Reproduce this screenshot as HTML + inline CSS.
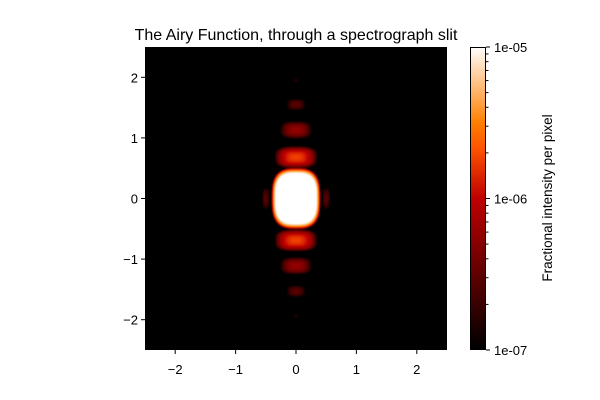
<!DOCTYPE html>
<html><head><meta charset="utf-8"><style>
body{margin:0;background:#fff;}
#wrap{position:relative;width:600px;height:400px;font-family:"Liberation Sans","DejaVu Sans",sans-serif;}
</style></head><body>
<div id="wrap">
<canvas id="hm" width="302" height="303" style="position:absolute;left:145px;top:47px;"></canvas>
<canvas id="cb" width="16" height="303" style="position:absolute;left:470px;top:47px;"></canvas>
<svg id="ov" width="600" height="400" style="position:absolute;left:0;top:0;"></svg>
</div>
<script>
// Data: lobes along the slit (data units)
const lobeY = [0, 0.68, -0.69, 1.13, -1.11, 1.55, -1.53, 1.95, -1.93, 0, 0];
const lobeX = [0, 0, 0, 0, 0, 0, 0, 0, 0, 0.5, -0.5];
const lobePeak = [1e-4, 1.8e-6, 1.8e-6, 6e-7, 6e-7, 3e-7, 3e-7, 1.5e-7, 1.5e-7, 3e-7, 3e-7];
const lobeHalfW = [0.42, 0.42, 0.42, 0.36, 0.36, 0.26, 0.26, 0.12, 0.12, 0.1, 0.1];
const lobeHalfH = [0.52, 0.22, 0.22, 0.2, 0.2, 0.16, 0.16, 0.1, 0.1, 0.3, 0.3];
const xTicks = [-2, -1, 0, 1, 2];
const yTicks = [-2, -1, 0, 1, 2];
const cbTicks = ["1e-07", "1e-06", "1e-05"];

const X0 = 145, Y0 = 47, W = 302, H = 303;
const xs = v => X0 + (v + 2.5) / 5 * W;
const ys = v => Y0 + (2.5 - v) / 5 * H;
const vmin = -7, vmax = -5;
function cmap(t){t=Math.max(0,Math.min(1,t));
  return [Math.min(1,1.5*t)*255, Math.max(0,2*t-1)*255, Math.max(0,4*t-3)*255];}

const ctx = document.getElementById('hm').getContext('2d');
const img = ctx.createImageData(W, H);
for (let py = 0; py < H; py++) for (let px = 0; px < W; px++) {
  const x = -2.5 + (px + 0.5) / W * 5, y = 2.5 - (py + 0.5) / H * 5;
  let I = 1e-12;
  for (let i = 0; i < lobeY.length; i++) {
    const u = (x - lobeX[i]) / lobeHalfW[i], v = (y - lobeY[i]) / lobeHalfH[i];
    const r = Math.pow(Math.pow(Math.abs(u), 3) + Math.pow(Math.abs(v), 3), 1/3);
    if (r < 1) I += lobePeak[i] * Math.pow(Math.cos(Math.PI * r / 2), 2);
  }
  const c = cmap((Math.log10(I) - vmin) / (vmax - vmin));
  const k = (py * W + px) * 4;
  img.data[k] = c[0]; img.data[k+1] = c[1]; img.data[k+2] = c[2]; img.data[k+3] = 255;
}
ctx.putImageData(img, 0, 0);

const cctx = document.getElementById('cb').getContext('2d');
for (let py = 0; py < 303; py++) {
  const c = cmap(1 - (py + 0.5) / 303);
  cctx.fillStyle = `rgb(${c[0]|0},${c[1]|0},${c[2]|0})`;
  cctx.fillRect(0, py, 16, 1);
}

const svg = document.getElementById('ov');
const NS = 'http://www.w3.org/2000/svg';
function mk(tag, attrs, name, text) {
  const e = document.createElementNS(NS, tag);
  for (const k in attrs) e.setAttribute(k, attrs[k]);
  
  
  if (text !== undefined) e.textContent = text;
  svg.appendChild(e); return e;
}
mk('rect', {x: X0 + 0.5, y: Y0 + 0.5, width: W - 1, height: H - 1, fill: 'none', stroke: '#000'}, 'axes-frame');
xTicks.forEach(t => {
  const x = xs(t);
  mk('line', {x1: x, x2: x, y1: Y0 + H, y2: Y0 + H + 4, stroke: '#000'}, 'x-tick');
  mk('text', {x: x, y: 374, 'text-anchor': 'middle', 'font-size': 13}, 'x-tick-label', t < 0 ? '\u2212' + (-t) : '' + t);
});
yTicks.forEach(t => {
  const y = ys(t);
  mk('line', {x1: X0 - 4, x2: X0, y1: y, y2: y, stroke: '#000'}, 'y-tick');
  mk('text', {x: 138, y: y + 5, 'text-anchor': 'end', 'font-size': 13}, 'y-tick-label', t < 0 ? '\u2212' + (-t) : '' + t);
});
mk('text', {x: 296, y: 40, 'text-anchor': 'middle', 'font-size': 16}, 'chart-title', 'The Airy Function, through a spectrograph slit');
mk('rect', {x: 470.5, y: 47.5, width: 15, height: 302, fill: 'none', stroke: '#000'}, 'colorbar-frame');
const cbY = d => 350 - (d - vmin) / (vmax - vmin) * 303;
cbTicks.forEach((lab, i) => {
  const y = cbY(vmin + i);
  mk('line', {x1: 486, x2: 490, y1: y, y2: y, stroke: '#000'}, 'colorbar-tick');
  mk('text', {x: 494, y: y + 5, 'font-size': 13}, 'colorbar-tick-label', lab);
});
for (let d = vmin; d < vmax; d++) for (let m = 2; m <= 9; m++) {
  const y = cbY(d + Math.log10(m));
  mk('line', {x1: 486, x2: 488.5, y1: y, y2: y, stroke: '#000'}, 'colorbar-minor-tick');
}
mk('text', {x: 552, y: 198, 'text-anchor': 'middle', 'font-size': 13.5, transform: 'rotate(-90 552 198)'}, 'colorbar-label', 'Fractional intensity per pixel');
</script>
</body></html>
